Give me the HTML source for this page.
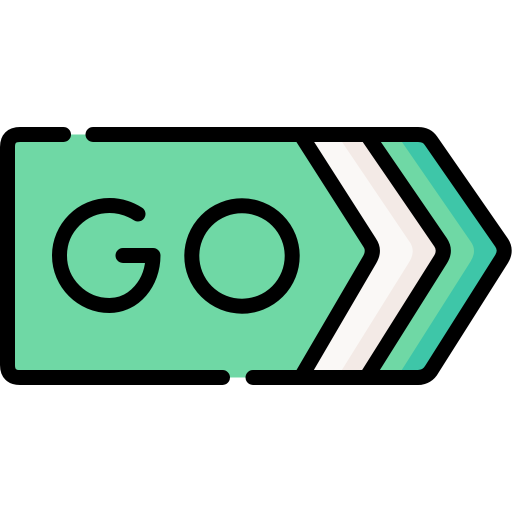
<!DOCTYPE html>
<html lang="en">
<head>
<meta charset="utf-8">
<title>Go arrow sign icon</title>
<style>
html,body{margin:0;padding:0;background:#fff;width:512px;height:512px;overflow:hidden}
svg{display:block}
</style>
</head>
<body>
<svg xmlns="http://www.w3.org/2000/svg" width="512" height="512" viewBox="0 0 512 512">
  <g>
    <path fill="#3ec6a8" d="M20 134.5H418C424 134.5 428 136.5 431 140.9L501.4 242.4Q507 250.5 501.4 259.3L432 369C429 374.5 424 377.5 418 377.5H20Q7.5 377.5 7.5 365V147Q7.5 134.5 20 134.5Z"/>
    <path fill="#6fd8a5" d="M20 134.5H396.8L470.5 241.3Q477.5 250.5 470.5 261.6L397 377.5H20Z"/>
    <path fill="#f3eae6" d="M20 134.5H366.7L440.6 242.4Q446 250.5 440.6 259.4L366.3 377.5H20Z"/>
    <path fill="#faf8f6" d="M20 134.5H337L409 241Q416.4 250.5 409 262.4L337.2 377.5H20Z"/>
    <path fill="#6fd8a5" d="M20 134.5H300.5L369.7 242.7Q375 250.5 369.7 259.6L300.8 377.5H20Q7.5 377.5 7.5 365V147Q7.5 134.5 20 134.5Z"/>
  </g>
  <g fill="none" stroke="#000" stroke-width="15" stroke-linecap="round" stroke-linejoin="round">
    <path stroke-linecap="butt" d="M300.5 134.5L369.7 242.7Q375 250.5 369.7 259.6L300.8 377.5"/>
    <path stroke-linecap="butt" d="M366.7 134.5L440.6 242.4Q446 250.5 440.6 259.4L366.3 377.5"/>
    <path d="M63.5 134.5H20Q7.5 134.5 7.5 147V365Q7.5 377.5 20 377.5H222.5"/>
    <path d="M93 134.5H418C424 134.5 428 136.5 431 140.9L501.4 242.4Q507 250.5 501.4 259.3L432 369C429 374.5 424 377.5 418 377.5H253"/>
    <path d="M138 214C130 209 120 205.5 109.5 205.5C82 205.5 59.5 228 59.5 255.5C59.5 283 82 305.5 109.5 305.5C134 305.5 153 283 153 255.5H123"/>
    <circle cx="242" cy="256" r="50.2"/>
  </g>
</svg>
</body>
</html>
